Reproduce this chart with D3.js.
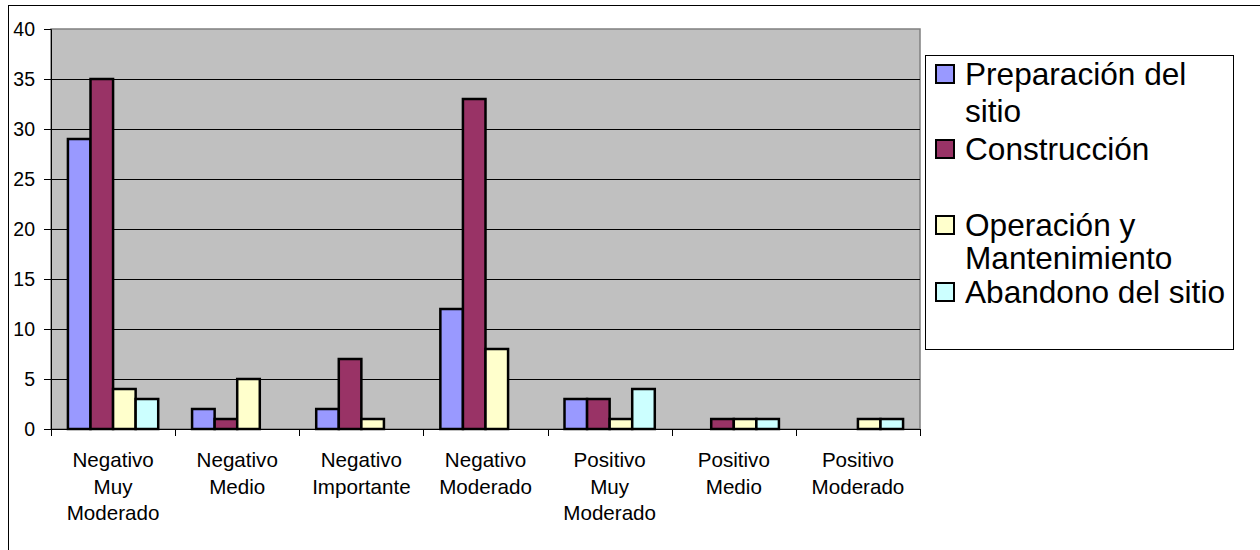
<!DOCTYPE html>
<html>
<head>
<meta charset="utf-8">
<script src="https://cdn.jsdelivr.net/npm/d3@7"></script>
<style>
  html, body { margin: 0; padding: 0; background: #fff; }
  svg { display: block; font-family: "Liberation Sans", Arial, sans-serif; }
</style>
</head>
<body>
<svg id="chart" width="1260" height="550"></svg>
<script>
// Categories (each label split into its display lines)
const categories = [
  ["Negativo", "Muy", "Moderado"],
  ["Negativo", "Medio"],
  ["Negativo", "Importante"],
  ["Negativo", "Moderado"],
  ["Positivo", "Muy", "Moderado"],
  ["Positivo", "Medio"],
  ["Positivo", "Moderado"]
];

// Series names (legend lines) and values per category
const seriesNames = [
  ["Preparación del", "sitio"],
  ["Construcción"],
  ["Operación y", "Mantenimiento"],
  ["Abandono del sitio"]
];
const preparacion  = [29, 2, 2, 12, 3, 0, 0];
const construccion = [35, 1, 7, 33, 3, 1, 0];
const operacion    = [4, 5, 1, 8, 1, 1, 1];
const abandono     = [3, 0, 0, 0, 4, 1, 1];
const seriesColors = ["#9999FF", "#993366", "#FFFFCC", "#CCFFFF"];

const yTicks = [0, 5, 10, 15, 20, 25, 30, 35, 40];

const allSeries = [preparacion, construccion, operacion, abandono];

const svg = d3.select("#chart");

// Outer chart frame
svg.append("rect")
  .attr("x", 8.5).attr("y", 5.5)
  .attr("width", 1400).attr("height", 700)
  .attr("fill", "#fff").attr("stroke", "#000").attr("stroke-width", 1);

const plot = { left: 51, right: 920, top: 29, bottom: 429 };

const catIdx = d3.range(categories.length);
const x0 = d3.scaleBand()
  .domain(catIdx)
  .range([plot.left, plot.right])
  .paddingInner(0).paddingOuter(0);

// bars take 4 of 5.5 slots (gap of 1.5 bar widths)
const groupFrac = 4 / 5.5;
const x1 = d3.scaleBand()
  .domain(d3.range(allSeries.length))
  .range([0, x0.bandwidth() * groupFrac]);

const y = d3.scaleLinear().domain([0, 40]).range([plot.bottom, plot.top]);

// Plot background
svg.append("rect")
  .attr("x", plot.left).attr("y", plot.top)
  .attr("width", plot.right - plot.left).attr("height", plot.bottom - plot.top)
  .attr("fill", "#C0C0C0").attr("stroke", "#808080").attr("stroke-width", 1.5);

// Gridlines
svg.append("g")
  .selectAll("line")
  .data(yTicks.filter(t => t > 0 && t < 40))
  .join("line")
  .attr("x1", plot.left).attr("x2", plot.right)
  .attr("y1", d => Math.round(y(d)) + 0.5).attr("y2", d => Math.round(y(d)) + 0.5)
  .attr("stroke", "#000").attr("stroke-width", 1);

// Bars
const groups = svg.append("g")
  .selectAll("g")
  .data(catIdx)
  .join("g")
  .attr("transform", i => `translate(${x0(i) + x0.bandwidth() * (1 - groupFrac) / 2},0)`);

groups.selectAll("rect")
  .data(i => allSeries.map((s, k) => ({ k, v: s[i] })).filter(d => d.v > 0))
  .join("rect")
  .attr("x", d => x1(d.k))
  .attr("y", d => y(d.v))
  .attr("width", x1.bandwidth())
  .attr("height", d => y(0) - y(d.v))
  .attr("fill", d => seriesColors[d.k])
  .attr("stroke", "#000")
  .attr("stroke-width", 2.5);

// Y axis
const yAxis = d3.axisLeft(y).tickValues(yTicks).tickSize(7).tickPadding(9);
const gy = svg.append("g")
  .attr("transform", `translate(${plot.left},0)`)
  .call(yAxis);
gy.select(".domain").attr("stroke", "#000").attr("stroke-width", 1);
gy.selectAll(".tick line").attr("stroke", "#000");
gy.selectAll(".tick text")
  .attr("font-size", 19.5)
  .attr("font-family", "Liberation Sans, Arial, sans-serif")
  .attr("fill", "#000");

// X axis: tick marks on category boundaries
const xEdges = d3.range(categories.length + 1).map(i => i === categories.length ? plot.right : x0(i));
const gx = svg.append("g");
gx.append("line")
  .attr("x1", plot.left).attr("x2", plot.right)
  .attr("y1", plot.bottom + 0.5).attr("y2", plot.bottom + 0.5)
  .attr("stroke", "#000");
gx.selectAll("line.tk")
  .data(xEdges)
  .join("line")
  .attr("class", "tk")
  .attr("x1", d => Math.round(d) + 0.5).attr("x2", d => Math.round(d) + 0.5)
  .attr("y1", plot.bottom).attr("y2", plot.bottom + 7)
  .attr("stroke", "#000");

// Category labels
const lbl = gx.selectAll("text.cat")
  .data(catIdx)
  .join("text")
  .attr("class", "cat")
  .attr("text-anchor", "middle")
  .attr("font-size", 20.6)
  .attr("fill", "#000")
  .attr("transform", i => `translate(${x0(i) + x0.bandwidth() / 2},467)`);
lbl.selectAll("tspan")
  .data(i => categories[i])
  .join("tspan")
  .attr("x", 0)
  .attr("y", (d, j) => j * 26.5)
  .text(d => d);

// Legend
const legend = { x: 925, y: 55, w: 308, h: 294 };
svg.append("rect")
  .attr("x", legend.x + 0.5).attr("y", legend.y + 0.5)
  .attr("width", legend.w).attr("height", legend.h)
  .attr("fill", "#fff").attr("stroke", "#000").attr("stroke-width", 1);

const legendRowY = [85, 160, 236, 303];
const legendLineGap = [37, 0, 33, 0];
const li = svg.append("g")
  .selectAll("g")
  .data(seriesNames)
  .join("g")
  .attr("transform", (d, k) => `translate(${legend.x},${legendRowY[k]})`);
li.append("rect")
  .attr("x", 11).attr("y", -20)
  .attr("width", 18).attr("height", 18)
  .attr("fill", (d, k) => seriesColors[k])
  .attr("stroke", "#000").attr("stroke-width", 2);
li.append("text")
  .attr("x", 40)
  .attr("font-size", 31.6)
  .attr("fill", "#000")
  .each(function (d, k) {
    d3.select(this).selectAll("tspan")
      .data(d)
      .join("tspan")
      .attr("x", 40)
      .attr("y", (t, j) => j * legendLineGap[k])
      .text(t => t);
  });
</script>
</body>
</html>
